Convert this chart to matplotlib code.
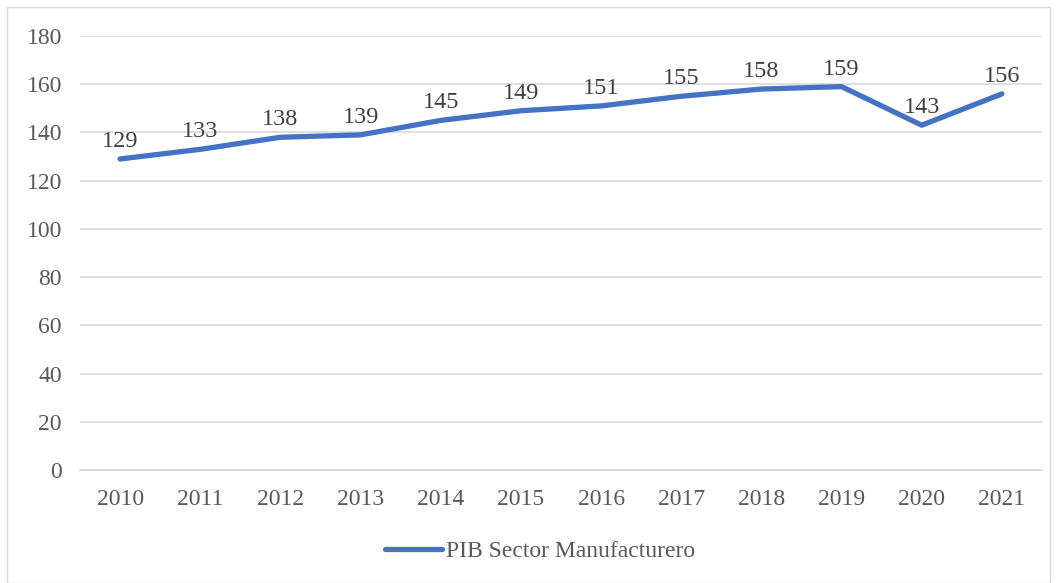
import matplotlib
matplotlib.use("Agg")
import matplotlib.pyplot as plt
from matplotlib.patches import Rectangle

years = ["2010", "2011", "2012", "2013", "2014", "2015",
         "2016", "2017", "2018", "2019", "2020", "2021"]
pib = [129, 133, 138, 139, 145, 149, 151, 155, 158, 159, 143, 156]
series_name = "PIB Sector Manufacturero"
y_ticks = [0, 20, 40, 60, 80, 100, 120, 140, 160, 180]

plt.rcParams['font.family'] = ['Liberation Serif', 'DejaVu Serif']

fig = plt.figure(figsize=(10.58, 5.83), dpi=100)
W, H = 1058, 583
ax = fig.add_axes([80 / W, 1 - 470 / H, (1042 - 80) / W, (470 - 36) / H])

x = range(len(years))
line_color = '#4472C4'
ax.plot(x, pib, color=line_color, linewidth=3.8, solid_capstyle='round',
        solid_joinstyle='round', label=series_name, zorder=3)

for xi, v in zip(x, pib):
    ax.annotate(str(v), (xi, v), xytext=(0, 5), textcoords='offset points',
                ha='center', va='bottom', fontsize=17.5, color='#404040')

ax.set_xlim(-0.5, len(years) - 0.5)
ax.set_ylim(0, 180)
ax.set_yticks(y_ticks)
ax.set_xticks(list(x))
ax.set_xticklabels(years)
ax.tick_params(axis='both', length=0, labelsize=17, colors='#595959')
ax.tick_params(axis='x', pad=14)
ax.tick_params(axis='y', pad=13)
ax.grid(axis='y', color='#D9D9D9', linewidth=1.2)
ax.set_axisbelow(True)
for s in ['top', 'right', 'left']:
    ax.spines[s].set_visible(False)
ax.spines['bottom'].set_color('#D9D9D9')
ax.spines['bottom'].set_linewidth(1.2)

leg = fig.legend(loc='center', bbox_to_anchor=(540 / W, 1 - 551 / H), frameon=False,
                 fontsize=17, handlelength=2.4, handletextpad=0.15)
for t in leg.get_texts():
    t.set_color('#595959')

fig.patches.append(Rectangle((7 / W, 0), (1050 - 7) / W, 1 - 7 / H,
                             transform=fig.transFigure, fill=False,
                             edgecolor='#D9D9D9', linewidth=1))

fig.savefig('out.png', dpi=100)
